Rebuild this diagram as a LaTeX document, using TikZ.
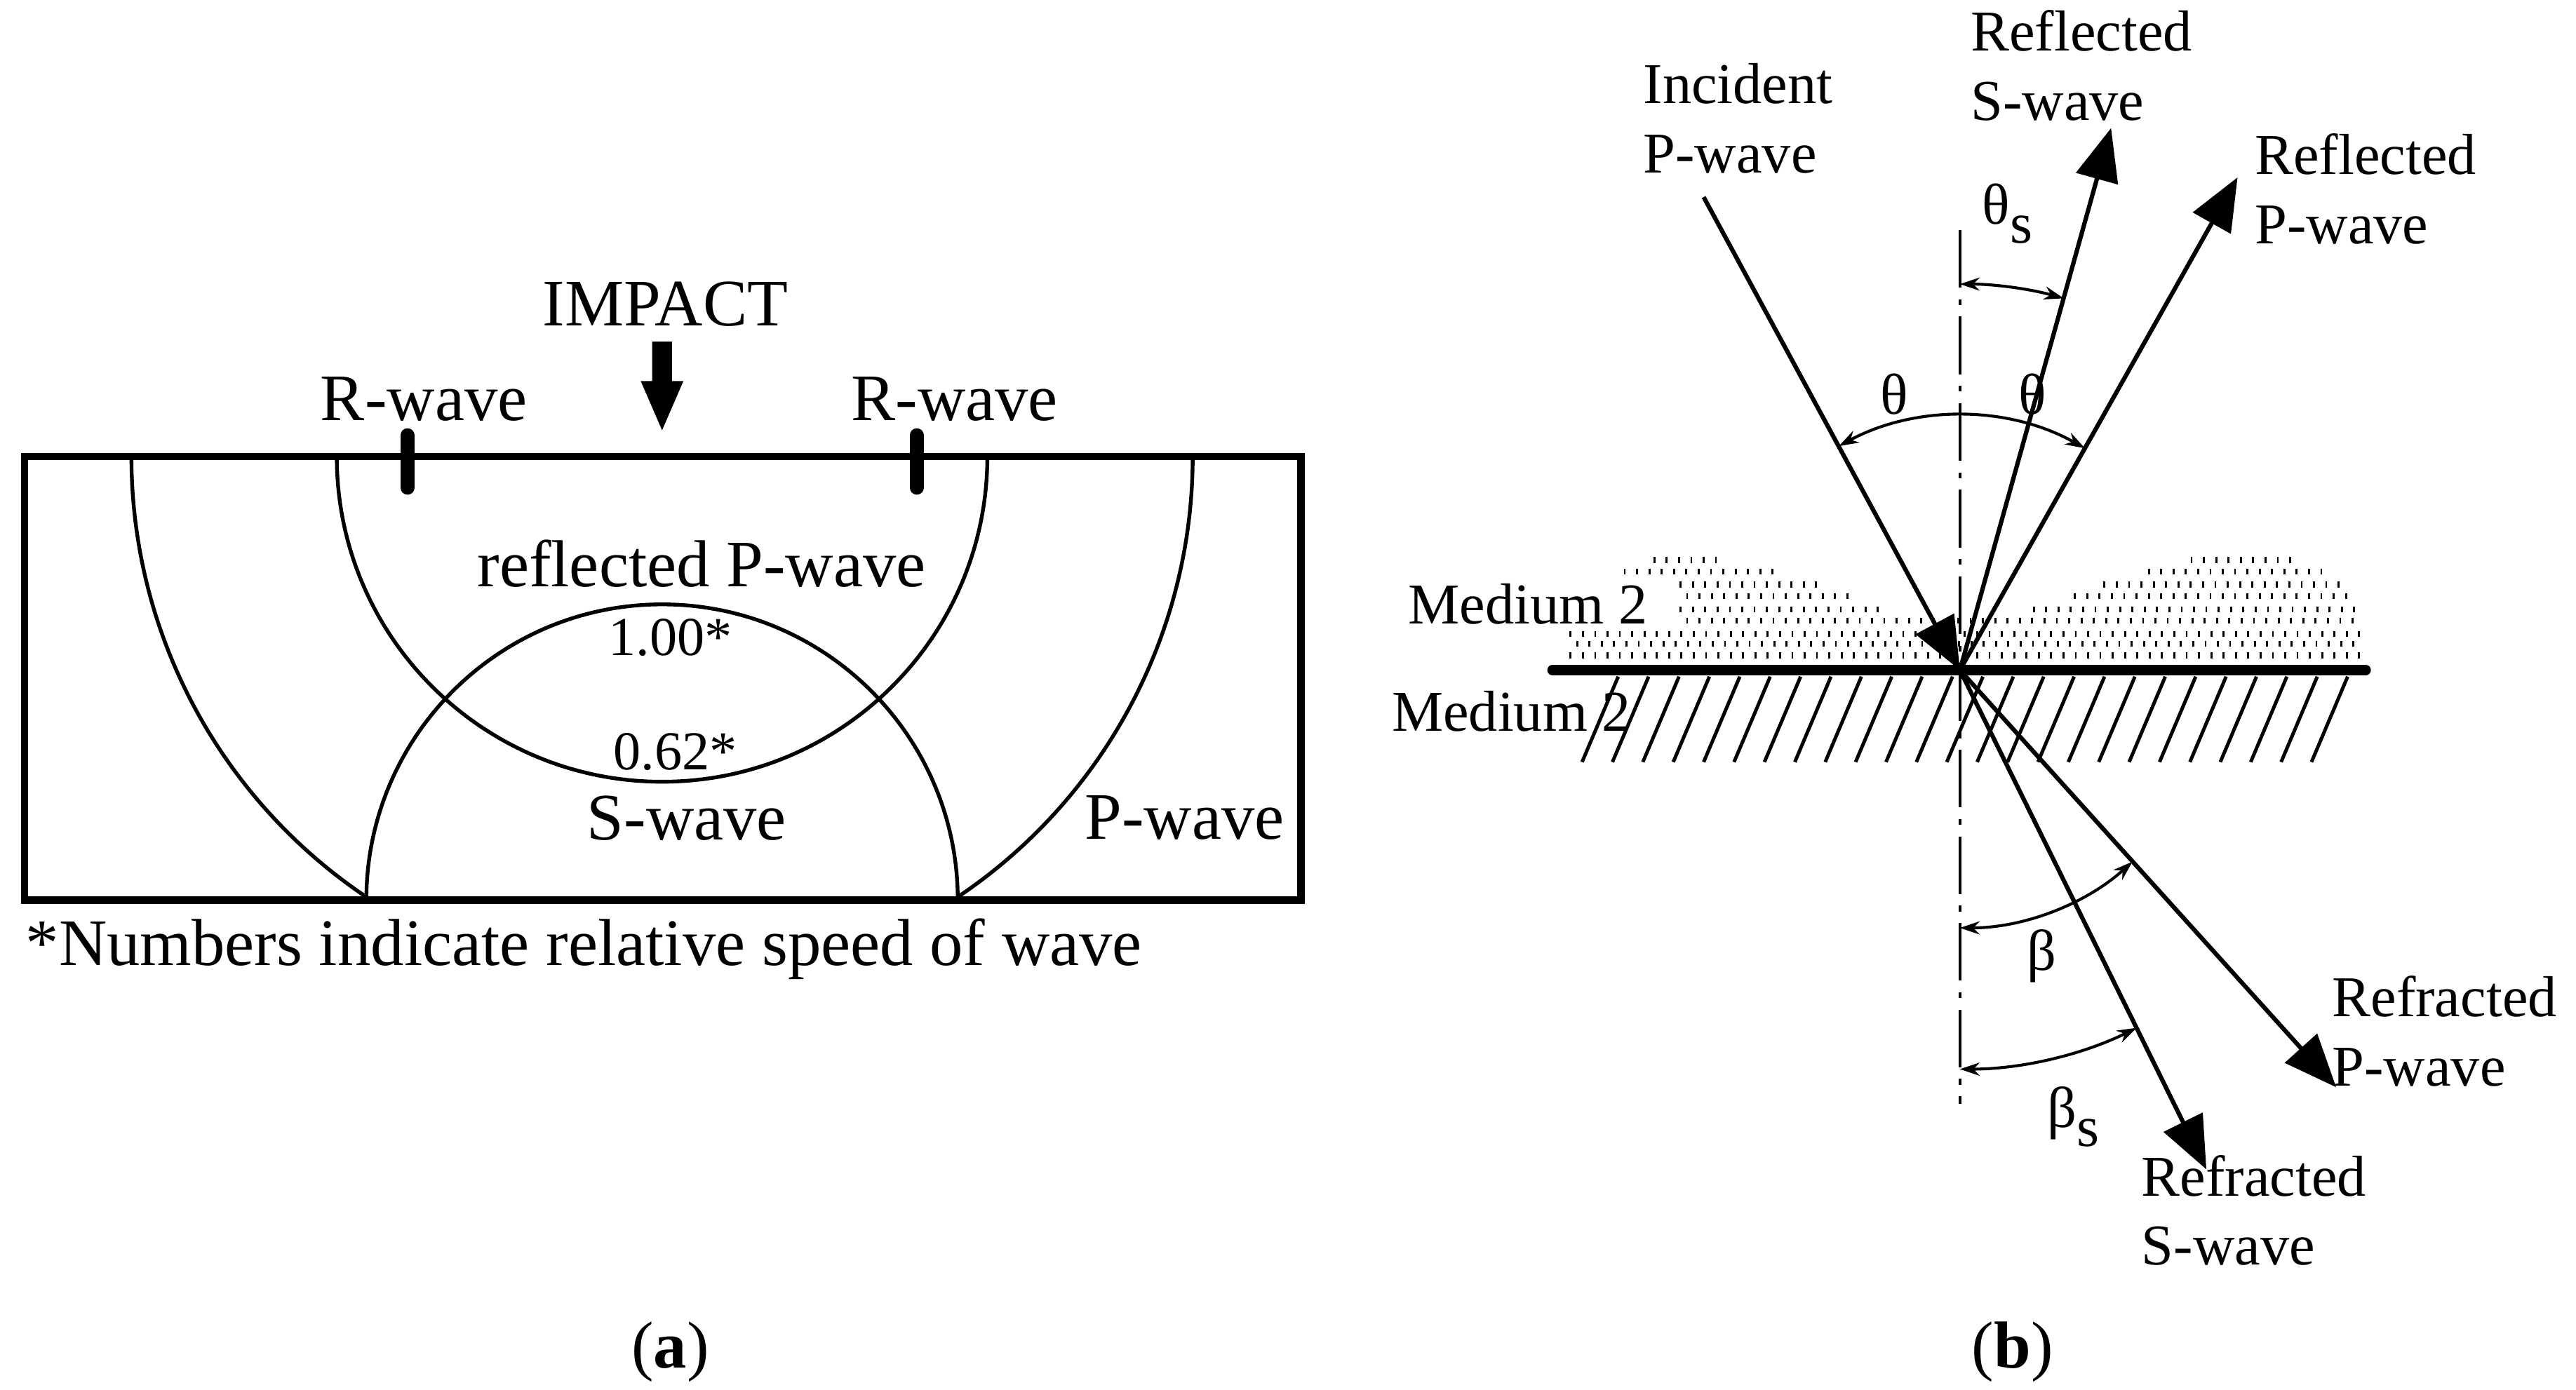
\documentclass[tikz,border=0pt]{standalone}
\usepackage{fontspec}
\setmainfont{Liberation Serif}
\usetikzlibrary{arrows.meta}
\begin{document}
\begin{tikzpicture}[x=0.01cm,y=0.01cm,
  thin line/.style={line width=0.65pt},
  ray/.style={line width=0.75pt,-{Triangle[length=0.32cm,width=0.26cm]}},
  ang/.style={line width=0.5pt,{Stealth[length=0.12cm,width=0.08cm]}-{Stealth[length=0.12cm,width=0.08cm]}},
  lbla/.style={font=\fontsize{11.5}{14}\selectfont},
  lblb/.style={font=\fontsize{10}{12}\selectfont,align=left},
  num/.style={font=\fontsize{9.5}{11}\selectfont}]
\useasboundingbox (0,0) rectangle (1568,846);
% ---------- panel (a)
\draw[line width=1.3pt] (15,298) rectangle (792,568);
\draw[thin line] (80,568) arc[start angle=180,end angle=236.7,radius=323];
\draw[thin line] (726,568) arc[start angle=0,end angle=-56.7,radius=323];
\draw[thin line] (205,568) arc[start angle=180,end angle=360,radius=198];
\draw[thin line] (223,298) arc[start angle=180,end angle=0,radius=180];
\draw[line width=2.4pt,line cap=round] (248,581) -- (248,549);
\draw[line width=2.4pt,line cap=round] (558,581) -- (558,549);
\fill (397,638) -- (409,638) -- (409,614) -- (416,614) -- (403,584) -- (390,614) -- (397,614) -- cycle;
\node[lbla] (impact) at (405,661) {IMPACT};
\node[lbla] (rw1) at (258,603) {R-wave};
\node[lbla] (rw2) at (581,603) {R-wave};
\node[lbla] (rp) at (427,503) {reflected P-wave};
\node[num] (n1) at (408,458) {1.00*};
\node[num] (n2) at (411,388) {0.62*};
\node[lbla] (sw) at (418,348) {S-wave};
\node[lbla] (pw) at (721,348) {P-wave};
\node[lbla,anchor=west,inner sep=0] (fn) at (15,268) {*Numbers indicate relative speed of wave};
\node[lbla] (la) at (408,23) {(\textbf{a})};
\node[lbla] (lb) at (1225,23) {(\textbf{b})};
% ---------- panel (b)
% stipple
\foreach \yy/\segs in {505/{1007/1046,1334/1401},498/{989/1086,1308/1413},490/{1023/1106,1281/1425},483/{1027/1131,1263/1429},475/{1023/1149,1238/1433},468/{1027/1437},460/{956/1437},454/{960/1437},447/{956/1437}}{
  \foreach \a/\b in \segs {
    \pgfmathsetmacro\c{\a+7.5}
    \foreach \xx in {\a,\c,...,\b} { \fill (\xx-0.6,\yy-1.8) rectangle (\xx+0.6,\yy+1.8); }
  }
}
% hatch
\foreach \xx in {985,1003.5,...,1440} { \draw[line width=0.6pt] (\xx,434) -- (\xx-22,382); }
\draw[line width=1.8pt,line cap=round] (945,438) -- (1440,438);
\coordinate (O) at (1193,438);
\draw[line width=0.5pt,dash pattern=on 10pt off 2pt on 1pt off 2pt] (1193,706) -- (1193,174);
\coordinate (inc) at (1037,726);
\coordinate (rP) at (1362,738);
\coordinate (rS) at (1285,768);
\coordinate (fP) at (1422,184);
\coordinate (fS) at (1343,134);
\draw[ray] (inc) -- (O);
\draw[ray] (O) -- (rP);
\draw[ray] (O) -- (rS);
\draw[ray] (O) -- (fP);
\draw[ray] (O) -- (fS);
\draw[ang] (O) ++(118.4:155) arc[start angle=118.4,end angle=60.6,radius=155];
\draw[ang] (O) ++(90:235) arc[start angle=90,end angle=74.4,radius=235];
\draw[ang] (O) ++(-90:157) arc[start angle=-90,end angle=-48,radius=157];
\draw[ang] (O) ++(-90:243) arc[start angle=-90,end angle=-63.7,radius=243];
\node[lblb] (t1) at (1153,606) {θ};
\node[lblb] (t2) at (1237,606) {θ};
\node[lblb] (ts) at (1222,716) {θ\raisebox{-0.7ex}{s}};
\node[lblb] (b1) at (1243,264) {β};
\node[lblb] (bs) at (1262,166) {β\raisebox{-0.7ex}{s}};
\node[lblb] (l1) at (1058,774) {Incident\\P-wave};
\node[lblb] (l2) at (1267,806) {Reflected\\S-wave};
\node[lblb] (l3) at (1440,731) {Reflected\\P-wave};
\node[lblb] (l4) at (1488,218) {Refracted\\P-wave};
\node[lblb] (l5) at (1372,109) {Refracted\\S-wave};
\node[lblb] (m1) at (930,478) {Medium 2};
\node[lblb] (m2) at (920,413) {Medium 2};
\end{tikzpicture}
\end{document}
